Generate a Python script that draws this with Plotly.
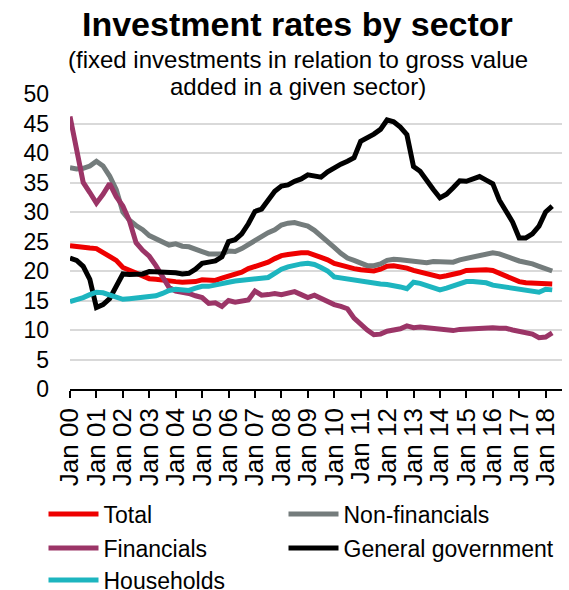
import plotly.graph_objects as go

# Quarterly observations, Q1 2000 .. Q2 2018
start_year = 2000
n_quarters = 74
quarters = [start_year + i * 0.25 for i in range(n_quarters)]

years = list(range(2000, 2019))
tick_labels = ["Jan %02d" % (y % 100) for y in years]

total = [24.3, 24.1, 23.9, 23.9, 23.8, 23.2, 22.5, 21.8, 20.6, 20.1,
         19.6, 19.1, 18.7, 18.6, 18.4, 18.3, 18.2, 18.1, 18.1, 18.2,
         18.5, 18.4, 18.4, 18.8, 19.1, 19.4, 19.8, 20.4, 20.7, 21.0,
         21.5, 22.1, 22.6, 22.8, 23.0, 23.1, 23.1, 22.8, 22.3, 21.9,
         21.3, 21.0, 20.6, 20.4, 20.2, 20.0, 20.0, 20.3, 20.8, 20.9,
         20.8, 20.5, 20.1, 19.8, 19.5, 19.3, 19.0, 19.2, 19.4, 19.7,
         20.1, 20.2, 20.2, 20.2, 20.1, 19.6, 19.2, 18.6, 18.2, 18.0,
         17.9, 17.8, 17.7, 17.8]

non_financials = [37.5, 37.3, 37.4, 37.8, 38.6, 37.8, 36.1, 33.8, 30.0, 28.6,
                  27.7, 27.0, 26.0, 25.4, 24.9, 24.4, 24.6, 24.2, 24.1, 23.8,
                  23.3, 22.9, 22.8, 22.9, 23.4, 23.3, 23.8, 24.5, 25.3, 25.8,
                  26.5, 27.0, 27.8, 28.1, 28.2, 27.9, 27.6, 26.9, 26.0, 25.0,
                  24.0, 23.0, 22.2, 21.8, 21.4, 20.9, 20.9, 21.2, 21.8, 22.0,
                  21.9, 21.8, 21.7, 21.5, 21.4, 21.6, 21.6, 21.7, 21.5, 21.9,
                  22.1, 22.3, 22.5, 22.8, 23.1, 22.9, 22.6, 22.1, 21.7, 21.5,
                  21.2, 20.8, 20.3, 20.0]

financials = [46.2, 40.5, 35.0, 33.3, 31.5, 33.0, 34.8, 32.6, 31.0, 28.5,
              24.8, 23.5, 22.5, 20.9, 19.0, 17.2, 16.6, 16.5, 16.2, 15.8,
              15.5, 14.5, 14.6, 14.0, 15.0, 14.7, 14.8, 15.1, 16.6, 15.9,
              16.0, 16.2, 16.0, 16.2, 16.5, 16.0, 15.5, 15.9, 15.3, 14.8,
              14.3, 14.0, 13.6, 12.0, 10.9, 10.0, 9.2, 9.3, 9.8, 10.0,
              10.2, 10.7, 10.4, 10.5, 10.4, 10.2, 10.1, 9.9, 9.9, 10.1,
              10.2, 10.3, 10.4, 10.5, 10.4, 10.3, 10.3, 10.0, 9.8, 9.6,
              9.3, 8.7, 8.8, 9.5]

general_government = [22.2, 21.8, 20.8, 18.6, 13.8, 14.3, 15.3, 17.3, 19.5, 19.4,
                      19.4, 19.5, 19.9, 19.9, 19.9, 19.9, 19.7, 19.5, 19.6, 20.3,
                      21.3, 21.5, 21.7, 22.4, 25.0, 25.3, 26.3, 28.0, 30.1, 30.5,
                      32.0, 33.5, 34.4, 34.6, 35.2, 35.6, 36.3, 36.0, 35.9, 36.8,
                      37.5, 38.1, 38.6, 39.2, 42.0, 42.5, 43.2, 44.0, 45.6, 45.3,
                      44.4, 43.1, 37.7, 36.9, 35.2, 33.8, 32.4, 33.0, 34.1, 35.3,
                      35.2, 35.7, 36.0, 35.4, 34.8, 32.0, 30.3, 28.3, 25.6, 25.6,
                      26.3, 27.6, 30.0, 31.0]

households = [14.8, 15.1, 15.5, 16.0, 16.4, 16.3, 16.0, 15.6, 15.2, 15.3,
              15.4, 15.5, 15.6, 15.8, 16.2, 16.7, 16.9, 16.8, 16.7, 17.1,
              17.4, 17.4, 17.7, 17.9, 18.1, 18.3, 18.4, 18.5, 18.5, 18.6,
              18.9, 19.6, 20.3, 20.7, 21.0, 21.2, 21.3, 21.1, 20.6, 20.0,
              19.0, 18.8, 18.6, 18.5, 18.3, 18.1, 17.9, 17.8, 17.7, 17.6,
              17.3, 17.0, 18.1, 17.9, 17.6, 17.2, 16.8, 17.1, 17.4, 17.8,
              18.2, 18.2, 18.2, 18.0, 17.6, 17.4, 17.2, 17.0, 16.9, 16.7,
              16.5, 16.4, 16.9, 16.8]

series = [
    ("Total", total, "#EE0000", "legend"),
    ("Non-financials", non_financials, "#747C7C", "legend2"),
    ("Financials", financials, "#9B3567", "legend3"),
    ("General government", general_government, "#000000", "legend4"),
    ("Households", households, "#1DB5BF", "legend5"),
]

FONT = "Liberation Sans, Arial, sans-serif"

fig = go.Figure()
for name, vals, color, lg in series:
    fig.add_trace(go.Scatter(
        x=quarters, y=vals, name=name, mode="lines",
        line=dict(color=color, width=5),
        legend=lg,
    ))

legend_common = dict(
    orientation="h", xanchor="left", yanchor="middle",
    xref="container", yref="container",
    font=dict(family=FONT, size=23, color="black"),
    bgcolor="rgba(0,0,0,0)", itemwidth=50,
)

col1 = 43.5 / 569
col2 = 283.5 / 569
row1 = 1 - 514 / 590
row2 = 1 - 548 / 590
row3 = 1 - 580 / 590

fig.update_layout(
    width=569, height=590,
    margin=dict(l=70, r=7, t=94, b=201, autoexpand=False),
    paper_bgcolor="white", plot_bgcolor="white",
    font=dict(family=FONT, size=20, color="black"),
    showlegend=True,
    legend=dict(x=col1, y=row1, **legend_common),
    legend2=dict(x=col2, y=row1, **legend_common),
    legend3=dict(x=col1, y=row2, **legend_common),
    legend4=dict(x=col2, y=row2, **legend_common),
    legend5=dict(x=col1, y=row3, **legend_common),
    xaxis=dict(
        range=[2000, 2018.62],
        tickmode="array", tickvals=years, ticktext=tick_labels,
        tickangle=-90, ticks="outside", ticklen=7, tickwidth=1.5,
        tickcolor="black", showline=True, linecolor="black", linewidth=1.5,
        showgrid=False, zeroline=False, automargin=False,
        tickfont=dict(family=FONT, size=26, color="black"),
    ),
    yaxis=dict(
        range=[0, 50], dtick=5, tick0=0,
        showgrid=True, gridcolor="#D9D9D9", gridwidth=2,
        zeroline=False, showline=False, ticks="", automargin=False,
        ticklabelstandoff=20,
        tickfont=dict(family=FONT, size=23, color="black"),
    ),
    annotations=[
        dict(text="<b>Investment rates by sector</b>", xref="paper", yref="paper",
             x=0.4614, y=1.2386, xanchor="center", yanchor="middle",
             showarrow=False, font=dict(family=FONT, size=34, color="black")),
        dict(text="(fixed investments in relation to gross value", xref="paper", yref="paper",
             x=0.4634, y=1.117, xanchor="center", yanchor="middle",
             showarrow=False, font=dict(family=FONT, size=24, color="black")),
        dict(text="added in a given sector)", xref="paper", yref="paper",
             x=0.4634, y=1.025, xanchor="center", yanchor="middle",
             showarrow=False, font=dict(family=FONT, size=24, color="black")),
    ],
)

fig.write_html("out.html")
